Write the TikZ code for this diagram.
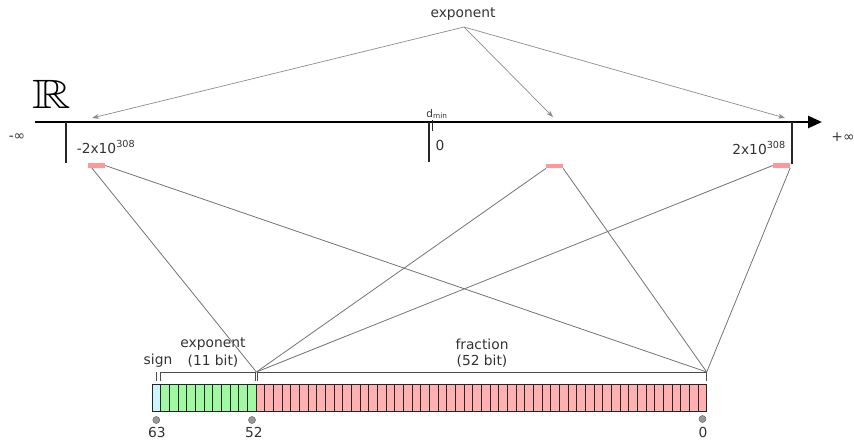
\documentclass[tikz,border=0pt]{standalone}
\usepackage{amssymb}
\usepackage{fontspec}
\setmainfont{DejaVu Sans}
\usetikzlibrary{arrows.meta, calc, positioning}

\definecolor{signcol}{RGB}{204,245,255}
\definecolor{expcol}{RGB}{160,248,160}
\definecolor{fraccol}{RGB}{255,176,176}
\definecolor{rangecol}{RGB}{255,153,153}

\begin{document}
\begin{tikzpicture}[x=1pt, y=-1pt,
    lbl/.style={font=\fontsize{13.8}{16}\selectfont, text=black!80, inner sep=0pt},
    ptr/.style={draw=black!45, line width=0.7pt, -{Stealth[length=7pt, width=5pt]}},
    link/.style={draw=black!55, line width=0.8pt},
    tickmark/.style={draw=black!85, line width=1.3pt},
    bracket/.style={draw=black!70, line width=0.9pt},
    cell/.style={draw=black!85, line width=0.9pt},
    rangebar/.style={fill=rangecol, draw=none, minimum width=17pt, minimum height=4.5pt, inner sep=0pt},
    bitdot/.style={circle, fill=black!40, draw=black!60, line width=0.5pt, minimum size=7pt, inner sep=0pt}]
    \useasboundingbox (0,0) rectangle (854,440);

    % Zahlengerade
    \coordinate (axl) at (35,122);
    \coordinate (axr) at (822,122);
    \draw[line width=2.6pt, -{Triangle[length=14pt, width=12pt]}] (axl) -- (axr);
    \node[xscale=1.3] (reals) at (52,94) {\fontsize{41}{41}\selectfont$\mathbb{R}$};
    \node[lbl] (minf) at (17,137) {-∞};
    \node[lbl] (pinf) at (843,137) {+∞};

    % Markierungen
    \draw[tickmark] (66,122) -- (66,163);
    \draw[tickmark] (429,122) -- (429,162);
    \draw[tickmark] (792,122) -- (792,164);
    \draw[draw=black!85, line width=0.9pt] (432,120) -- (432,131);
    \node[lbl] (lmin) at (106,147) {-2x10\textsuperscript{308}};
    \node[lbl] (lzero) at (440,145) {0};
    \node[lbl] (lmax) at (759,148) {2x10\textsuperscript{308}};
    \node[text=black!80, inner sep=0pt] (dmin) at (437,114) {\fontsize{10.5}{11}\selectfont d\textsubscript{min}};

    % Exponent-Bereiche
    \node[rangebar] (rl) at (96.5,165.5) {};
    \node[rangebar] (rm) at (554.5,166) {};
    \node[rangebar] (rr) at (781.5,165.5) {};

    \node[lbl] (exptop) at (463,14) {exponent};
    \coordinate (src) at (464,27);
    \draw[ptr] (src) -- (92,118);
    \draw[ptr] (src) -- (553,117);
    \draw[ptr] (src) -- (785,118);

    % Bitmuster
    \def\cw{8.667}
    \fill[signcol] (152,384) rectangle ++(\cw,27);
    \foreach \i in {1,...,11}
        \fill[expcol] ({152+\i*\cw},384) rectangle ++(\cw,27);
    \foreach \i in {12,...,63}
        \fill[fraccol] ({152+\i*\cw},384) rectangle ++(\cw,27);
    \foreach \i in {0,...,63}
        \draw[cell] ({152+\i*\cw},384) rectangle ++(\cw,27);

    % Klammern
    \draw[bracket] (156.3,372) -- (156.3,381);
    \draw[bracket] (160.7,381) -- (160.7,372) -- (255.4,372) -- (255.4,381);
    \draw[bracket] (257.3,381) -- (257.3,372) -- (706.7,372) -- (706.7,381);
    \coordinate (eb) at (256.4,372);
    \coordinate (fb) at (706.7,372);

    \node[lbl] (lsign) at (158,361) {sign};
    \node[lbl] (lexp) at (213,344) {exponent};
    \node[lbl] (lexpb) at (213,361) {(11 bit)};
    \node[lbl] (lfrac) at (482,344) {fraction};
    \node[lbl] (lfracb) at (482,361) {(52 bit)};

    % Verbindungen
    \draw[link] ($(rl.south west)+(4,0)$) -- (eb);
    \draw[link] (rl.east) -- (fb);
    \draw[link] (rm.south west) -- (eb);
    \draw[link] (rm.south east) -- (fb);
    \draw[link] (rr.west) -- (eb);
    \draw[link] (rr.south east) -- (fb);

    % Bitnummern
    \node[bitdot] (b63) at (156.3,420) {};
    \node[bitdot] (b52) at (252,420) {};
    \node[bitdot] (b0) at (702.5,419) {};
    \node[lbl] (n63) at (157,432.5) {63};
    \node[lbl] (n52) at (254,432.5) {52};
    \node[lbl] (n0) at (703,432.5) {0};
\end{tikzpicture}
\end{document}
